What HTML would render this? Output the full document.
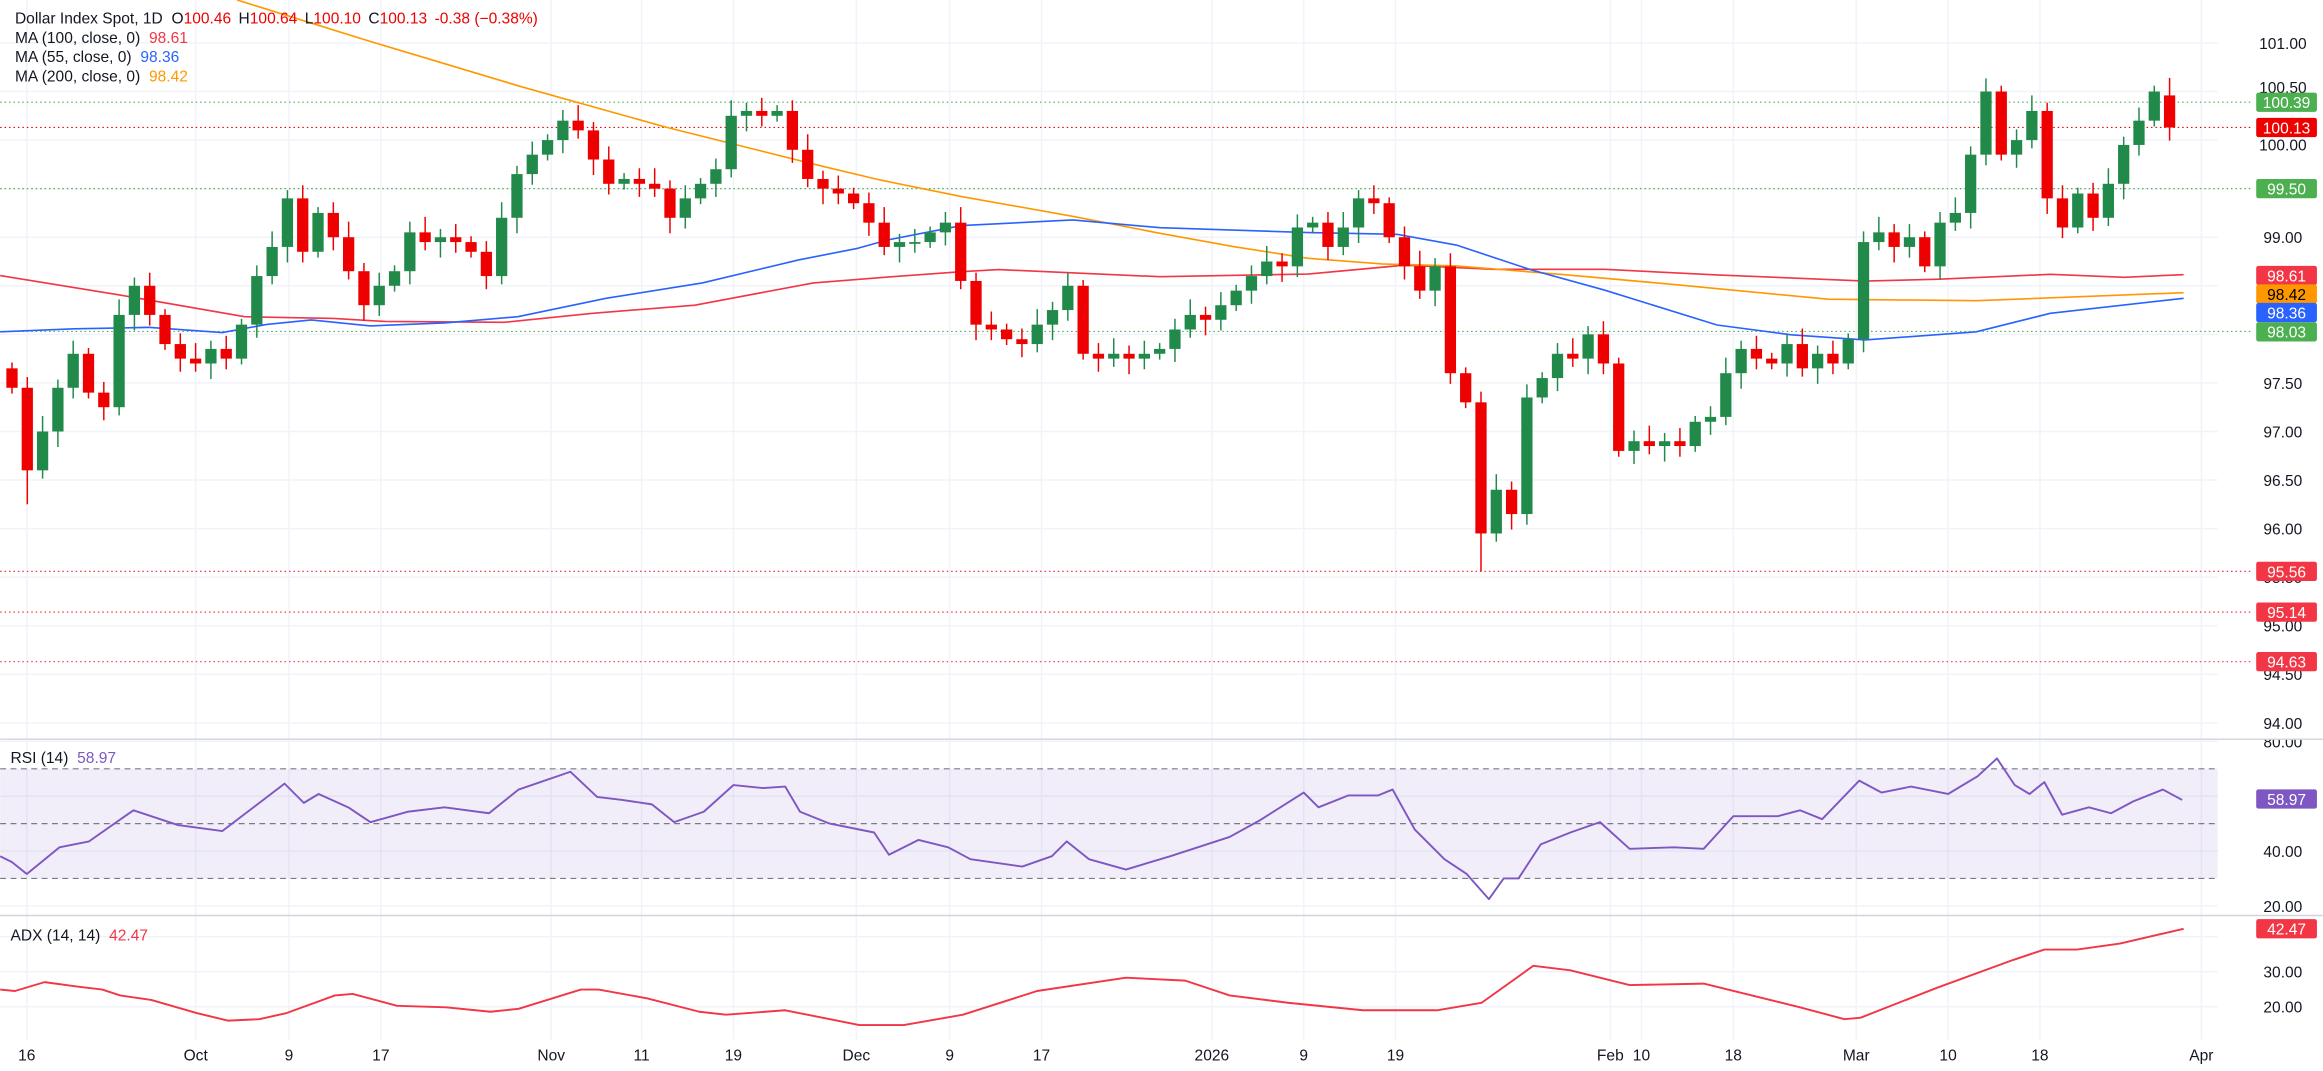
<!DOCTYPE html>
<html><head><meta charset="utf-8"><style>
html,body{margin:0;padding:0;background:#fff;}
svg{display:block;font-family:"Liberation Sans",sans-serif;}
</style></head><body>
<svg id="c" width="2323" height="1071" viewBox="0 0 1568 723" xmlns="http://www.w3.org/2000/svg"></svg>
<script>
const S=document.getElementById('c');let h='';
const py=p=>29+(101-p)*65.57;
const ry=v=>519+(70-v)*1.85;
const ay=v=>656+(30-v)*2.36;
h+='<defs><clipPath id="rc"><rect x="0" y="499.5" width="1568" height="118"/></clipPath></defs>';
// grid
h+='<g stroke="#f0f3fa" stroke-width="1">';
for(let p=94;p<=101;p+=0.5)h+=`<line x1="0" x2="1497" y1="${py(p)}" y2="${py(p)}"/>`;
[80,60,40,20].forEach(v=>h+=`<line x1="0" x2="1497" y1="${ry(v)}" y2="${ry(v)}"/>`);
[40,30,20].forEach(v=>h+=`<line x1="0" x2="1497" y1="${ay(v)}" y2="${ay(v)}"/>`);
const xl=[[18,'16'],[132,'Oct'],[195,'9'],[257,'17'],[372,'Nov'],[433,'11'],[495,'19'],[578,'Dec'],[641,'9'],[703,'17'],[818,'2026'],[880,'9'],[942,'19'],[1087,'Feb'],[1108,'10'],[1170,'18'],[1253,'Mar'],[1315,'10'],[1377,'18'],[1486,'Apr']];
xl.forEach(a=>h+=`<line x1="${a[0]}" x2="${a[0]}" y1="0" y2="702"/>`);
h+='</g>';
h+='<line x1="0" x2="1568" y1="499" y2="499" stroke="#d1d4dc"/><line x1="0" x2="1568" y1="618" y2="618" stroke="#d1d4dc"/>';
h+=`<rect x="0" y="${ry(70)}" width="1497" height="${ry(30)-ry(70)}" fill="#7e57c2" fill-opacity="0.1"/>`;
[70,50,30].forEach(v=>h+=`<line x1="0" x2="1497" y1="${ry(v)}" y2="${ry(v)}" stroke="#787b86" stroke-dasharray="4,3" stroke-width="0.8"/>`);
const lv=[[100.39,'#4caf50'],[100.13,'#e00'],[99.5,'#4caf50'],[98.03,'#4caf50'],[95.56,'#f23645'],[95.14,'#f23645'],[94.63,'#f23645']];
lv.forEach(a=>h+=`<line x1="0" x2="1520" y1="${py(a[0])}" y2="${py(a[0])}" stroke="${a[1]}" stroke-dasharray="1,2" stroke-width="0.8"/>`);
const pl=(pts,c,w)=>`<polyline fill="none" stroke="${c}" stroke-width="${w||1.1}" stroke-linejoin="round" points="${pts.map(p=>p.join(',')).join(' ')}"/>`;
h+=pl([[0,186],[80,199],[165,213.8],[225,215],[260,217],[340,217.6],[400,211.5],[469,206],[549,191],[599,187],[649,183.4],[674,182],[783,186.8],[883,185],[948,179],[1008,181.8],[1083,181.8],[1159,185.6],[1259,189.7],[1309,188.5],[1384,185.2],[1434,187.2],[1474,185.4]],'#f23645');
h+=pl([[160,0],[250,28],[350,58],[450,86],[550,111],[594,121.5],[649,132.7],[724,146],[783,157.5],[833,166.5],[883,174.4],[933,178.2],[983,179.5],[1058,185.6],[1134,192.4],[1234,202],[1334,203],[1474,197.6]],'#ff9800');
h+=pl([[0,224],[50,222],[100,221],[150,224.5],[180,219],[210,216],[230,218],[250,220],[300,218],[349.5,213.8],[409,201.4],[474,191],[539,175.5],[579,167.6],[599,162],[649,152.3],[724,148.5],[783,153.7],[883,157],[943,158.2],[983,165.4],[1033,182],[1083,195.8],[1159,219.4],[1209,226],[1259,229.5],[1334,224],[1384,211.5],[1474,201.4]],'#2962ff');
const cl=[97.45,96.6,97.0,97.45,97.8,97.4,97.25,98.2,98.5,98.2,97.9,97.75,97.7,97.85,97.75,98.1,98.6,98.9,99.4,98.85,99.25,99.0,98.65,98.3,98.5,98.65,99.05,98.95,99.0,98.95,98.85,98.6,99.2,99.65,99.85,100.0,100.2,100.1,99.8,99.55,99.6,99.55,99.5,99.2,99.4,99.55,99.7,100.25,100.3,100.25,100.3,99.9,99.6,99.5,99.45,99.35,99.15,98.9,98.95,98.95,99.05,99.15,98.55,98.1,98.05,97.95,97.9,98.1,98.25,98.5,97.8,97.75,97.8,97.75,97.8,97.85,98.05,98.2,98.15,98.3,98.45,98.6,98.75,98.7,99.1,99.15,98.9,99.1,99.4,99.35,99.0,98.7,98.45,98.7,97.6,97.3,95.95,96.4,96.15,97.35,97.55,97.8,97.75,98.0,97.7,96.8,96.9,96.85,96.9,96.85,97.1,97.15,97.6,97.85,97.75,97.7,97.9,97.65,97.8,97.7,97.95,98.95,99.05,98.9,99.0,98.7,99.15,99.25,99.85,100.5,99.85,100.0,100.3,99.4,99.1,99.45,99.2,99.55,99.95,100.2,100.5,100.13];
let prev=97.65;
cl.forEach((c,i)=>{const x=8+i*10.33;let o=prev;if(i==cl.length-1)o=100.46;
 const up=c>=o,col=up?'#218a4a':'#e00';
 let hi=Math.max(o,c)+0.06+((i*7)%5)*0.025,lo=Math.min(o,c)-0.06-((i*3)%5)*0.025;
 if(i==96)lo=95.56;if(i==141)hi=100.64;if(i==1)lo=96.25;
 const t=py(Math.max(o,c)),b=py(Math.min(o,c));
 h+=`<line x1="${x}" x2="${x}" y1="${py(hi)}" y2="${py(lo)}" stroke="${col}" stroke-width="1"/>`;
 h+=`<rect x="${x-3.8}" y="${t}" width="7.6" height="${Math.max(1.2,b-t)}" fill="${col}"/>`;
 prev=c;});
h+=pl([[0,578],[8,582],[18,590],[40,572],[60,568],[90,547],[120,557],[150,561],[175,542],[192,529],[205,542],[215,536],[235,545],[250,555],[275,548],[300,545],[330,549],[350,533],[385,521],[403,538],[420,540],[440,543],[455,555],[475,548],[495,530],[515,532],[530,531],[540,548],[560,556],[590,562],[600,577],[620,567],[640,572],[655,580],[690,585],[710,578],[720,568],[735,580],[760,587],[790,578],[830,565],[850,554],[880,535],[890,545],[910,537],[930,537],[940,533],[955,560],[975,580],[990,590],[1005,607],[1015,593],[1025,593],[1040,570],[1060,562],[1080,555],[1100,573],[1130,572],[1150,573],[1170,551],[1200,551],[1215,547],[1230,553],[1255,527],[1270,535],[1290,531],[1315,536],[1335,524],[1348,512],[1360,530],[1370,536],[1380,528],[1392,550],[1410,545],[1425,549],[1440,541],[1460,533],[1473,540]],'#7e57c2',1.3);
h+=pl([[0,668],[10,669],[30,663],[52,666],[69,668],[81,672],[102,675],[133,684],[154,689],[175,688],[193,684],[226,672],[238,671],[268,679],[301,680],[331,683],[350,681],[392,668],[404,668],[437,674],[472,683],[490,685],[530,682],[580,692],[610,692],[650,685],[700,669],[760,660],[800,662],[830,672],[870,677],[920,682],[970,682],[1000,677],[1035,652],[1060,655],[1100,665],[1150,664],[1215,680],[1245,688],[1256,687],[1307,667],[1359,648],[1380,641],[1402,641],[1431,637],[1474,627]],'#f23645',1.3);
h+='<g font-size="10.5" fill="#131722" text-anchor="middle">';
for(let p=94;p<=101;p+=0.5){if([100.5,100,99.5,98.5,98].includes(p))continue;h+=`<text x="1541" y="${py(p)+4}">${p.toFixed(2)}</text>`;}
h+=`<text x="1541" y="${py(100.5)+1}">100.50</text><text x="1541" y="${py(100)+7}">100.00</text>`;
h+=`<text x="1541" y="${ry(80)+4}" clip-path="url(#rc)">80.00</text>`;
[[40,'40.00'],[20,'20.00']].forEach(a=>h+=`<text x="1541" y="${ry(a[0])+4}">${a[1]}</text>`);
[[30,'30.00'],[20,'20.00']].forEach(a=>h+=`<text x="1541" y="${ay(a[0])+4}">${a[1]}</text>`);
xl.forEach(a=>h+=`<text x="${a[0]}" y="716">${a[1]}</text>`);
h+='</g>';
const box=(y,t,bg,fg)=>`<rect x="1523" y="${y-6.5}" width="41" height="13" rx="1.5" fill="${bg}"/><text x="1543.5" y="${y+4}" fill="${fg||'#fff'}" font-size="10.5" text-anchor="middle">${t}</text>`;
h+=box(py(100.39),'100.39','#4caf50')+box(py(100.13),'100.13','#e00')+box(py(99.5),'99.50','#4caf50');
h+=box(186,'98.61','#f23645')+box(198.5,'98.42','#ff9800','#000')+box(211,'98.36','#2962ff')+box(224,'98.03','#4caf50');
h+=box(py(95.56),'95.56','#f23645')+box(py(95.14),'95.14','#f23645')+box(py(94.63),'94.63','#f23645');
h+=box(ry(58.97),'58.97','#7e57c2')+box(627,'42.47','#f23645');
h+='<g font-size="10.5" fill="#131722">';
h+='<text x="10" y="16">Dollar Index Spot, 1D <tspan dx="3">O</tspan><tspan fill="#e00">100.46</tspan><tspan dx="5">H</tspan><tspan fill="#e00">100.64</tspan><tspan dx="5">L</tspan><tspan fill="#e00">100.10</tspan><tspan dx="5">C</tspan><tspan fill="#e00">100.13</tspan><tspan dx="5" fill="#e00">-0.38 (−0.38%)</tspan></text>';
h+='<text x="10" y="29">MA (100, close, 0) <tspan dx="3" fill="#f23645">98.61</tspan></text>';
h+='<text x="10" y="42">MA (55, close, 0) <tspan dx="3" fill="#2962ff">98.36</tspan></text>';
h+='<text x="10" y="55">MA (200, close, 0) <tspan dx="3" fill="#ff9800">98.42</tspan></text>';
h+='<text x="7" y="515">RSI (14) <tspan dx="3" fill="#7e57c2">58.97</tspan></text>';
h+='<text x="7" y="635">ADX (14, 14) <tspan dx="3" fill="#f23645">42.47</tspan></text>';
h+='</g>';
S.innerHTML=h;
</script>
</body></html>
